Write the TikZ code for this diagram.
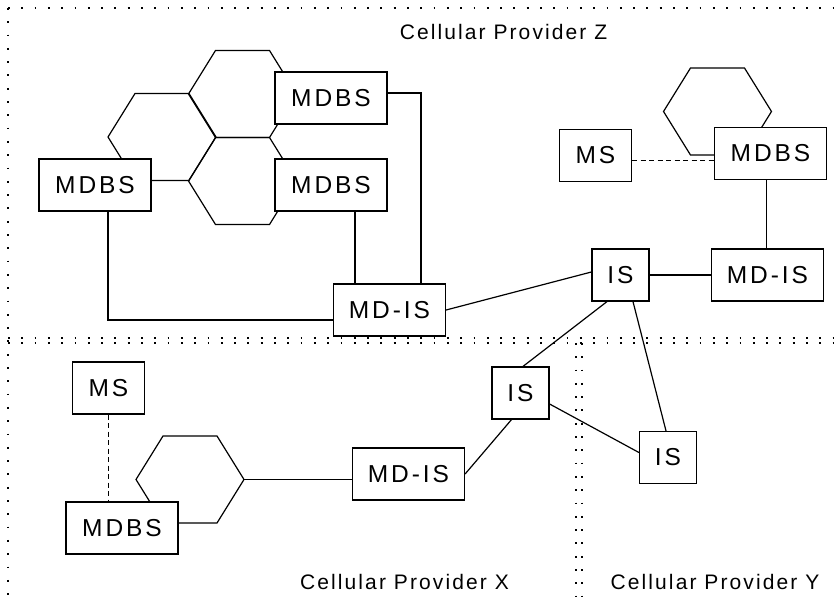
\documentclass[tikz,border=0pt]{standalone}
\usepackage{fontspec}
\usetikzlibrary{positioning}
\newfontfamily\boxfont[LetterSpace=12]{Liberation Sans}
\newfontfamily\tagfont[LetterSpace=10]{Liberation Sans}
\begin{document}
\begin{tikzpicture}[x=1pt,y=-1pt,node distance=0pt,on grid,line width=1.2pt,
  netbox/.style={draw,rectangle,fill=white,inner sep=0pt,minimum height=52pt,font=\fontsize{24.5}{28}\boxfont},
  wide/.style={netbox,minimum width=112pt},
  narrow/.style={netbox,minimum width=57pt},
  mid/.style={netbox,minimum width=72pt},
  radio/.style={line width=1.2pt,dash pattern=on 5pt off 3.5pt},
  border/.style={line width=1.5pt,dash pattern=on 1.8pt off 11.5pt},
  tag/.style={anchor=base,font=\fontsize{21}{25}\tagfont}]
\useasboundingbox (0,0) rectangle (839,601);
% provider areas
\draw[border] (8,8) -- (839,8);
\draw[border] (8,8) -- (8,601);
\draw[border] (8,338) -- (839,338);
\draw[border] (8,343) -- (839,343);
\draw[border] (576,343) -- (576,601);
\draw[border] (582,343) -- (582,601);
% cells
\foreach \x/\y [count=\n] in {242.5/94,162/137,242.5/181,717.5/111.5,190/479.5}{
  \draw (\x,\y) ++(-54,0) -- ++(27,-43.5) -- ++(54,0) -- ++(27,43.5) -- ++(-27,43.5) -- ++(-54,0) -- cycle;
  \coordinate (c_\n) at (\x,\y);
}
% provider Z
\node[wide](b_1) at (331,98) {MDBS};
\node[wide](b_2)[below=87pt of b_1]{MDBS};
\node[wide](b_3)[left=236pt of b_2]{MDBS};
\node[wide](d_1)[below right=125pt and 58.5pt of b_2]{MD-IS};
\node[narrow](i_1)[right=231pt of d_1,yshift=35pt]{IS};
\node[wide](d_2)[right=147pt of i_1]{MD-IS};
\node[wide](b_4)[above=121.5pt of d_2,xshift=3pt]{MDBS};
\node[mid](s_1)[left=175pt of b_4,yshift=-2pt]{MS};
% providers X and Y
\node[narrow](i_2)[below left=118pt and 100pt of i_1]{IS};
\node[narrow](i_3)[below right=64.5pt and 147.5pt of i_2]{IS};
\node[wide](d_3)[below left=81pt and 112pt of i_2]{MD-IS};
\node[wide](b_5)[below left=54pt and 286.5pt of d_3]{MDBS};
\node[mid](s_2)[above=140pt of b_5,xshift=-13.5pt]{MS};
\node[tag](t_z) at (503.5,40) {Cellular Provider Z};
\node[tag](t_x) at (404.5,590) {Cellular Provider X};
\node[tag](t_y) at (715,590) {Cellular Provider Y};
% links
\draw ([yshift=5pt]b_1.east) -| ([xshift=31.5pt]d_1.north);
\draw ([xshift=24pt]b_2.south) -- ([xshift=-34.5pt]d_1.north);
\draw ([xshift=13pt]b_3.south) |- ([yshift=-10pt]d_1.west);
\draw (d_1.east) -- ([yshift=3pt]i_1.west);
\draw (i_1) -- (d_2);
\draw ([xshift=-4pt]b_4.south) -- ([xshift=-1pt]d_2.north);
\draw[radio] ([yshift=-5pt]s_1.east) -- ([yshift=-7pt]b_4.west);
\draw ([xshift=-13.5pt]i_1.south) -- ([xshift=2.5pt]i_2.north);
\draw ([xshift=12.5pt]i_1.south) -- ([xshift=-2pt]i_3.north);
\draw ([yshift=-11pt]i_2.east) -- ([yshift=5pt]i_3.west);
\draw ([xshift=-9pt]i_2.south) -- (d_3.east);
\draw ([xshift=54pt]c_5) -- ([yshift=-5.5pt]d_3.west);
\draw[radio] (s_2.south) -- (s_2.south |- b_5.north);
\end{tikzpicture}
\end{document}
